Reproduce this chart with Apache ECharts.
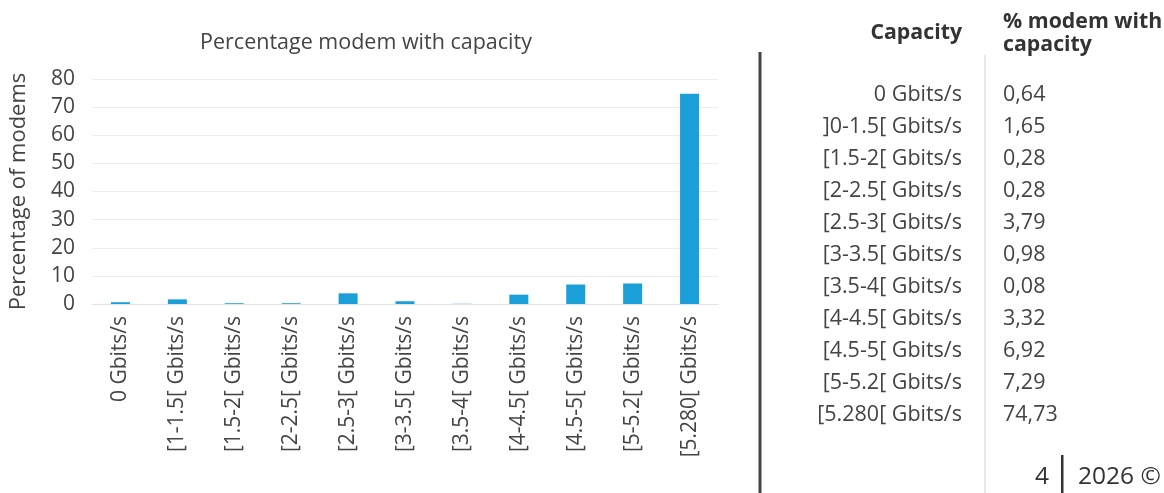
<!DOCTYPE html>
<html>
<head>
<meta charset="utf-8">
<script src="https://cdn.jsdelivr.net/npm/echarts@6/dist/echarts.min.js"></script>
<style>
html,body{margin:0;padding:0;background:#fff;}
#main{width:1164px;height:493px;}
</style>
</head>
<body>
<div id="main"></div>
<script>
var categories = ['0 Gbits/s','[1-1.5[ Gbits/s','[1.5-2[ Gbits/s','[2-2.5[ Gbits/s','[2.5-3[ Gbits/s','[3-3.5[ Gbits/s','[3.5-4[ Gbits/s','[4-4.5[ Gbits/s','[4.5-5[ Gbits/s','[5-5.2[ Gbits/s','[5.280[ Gbits/s'];
var tableLabels = ['0 Gbits/s',']0-1.5[ Gbits/s','[1.5-2[ Gbits/s','[2-2.5[ Gbits/s','[2.5-3[ Gbits/s','[3-3.5[ Gbits/s','[3.5-4[ Gbits/s','[4-4.5[ Gbits/s','[4.5-5[ Gbits/s','[5-5.2[ Gbits/s','[5.280[ Gbits/s'];
var values = [0.64, 1.65, 0.28, 0.28, 3.79, 0.98, 0.08, 3.32, 6.92, 7.29, 74.73];
var yTicks = [0, 10, 20, 30, 40, 50, 60, 70, 80];

var FONT = '"Open Sans", "Noto Sans", sans-serif';
var TXT = '#444';

var graphics = [];
// title
graphics.push({type:'text', style:{x:366, y:43, text:'Percentage modem with capacity', font:'21.5px ' + FONT, fill:TXT, textAlign:'center', textVerticalAlign:'middle'}});
// table header
graphics.push({type:'text', style:{x:962, y:33, text:'Capacity', font:'bold 21.3px ' + FONT, fill:'#333', textAlign:'right', textVerticalAlign:'middle'}});
graphics.push({type:'text', style:{x:1003, y:33, text:'% modem with\ncapacity', font:'bold 21.3px ' + FONT, fill:'#333', textAlign:'left', textVerticalAlign:'middle', lineHeight:23}});
// separators
graphics.push({type:'rect', shape:{x:758.5, y:52, width:3, height:441}, style:{fill:'#444'}});
graphics.push({type:'rect', shape:{x:984, y:55, width:2, height:438}, style:{fill:'#e8e8e8'}});
// rows
for (var i = 0; i < tableLabels.length; i++) {
  var y = 94.5 + i * 32;
  graphics.push({type:'text', style:{x:962, y:y, text:tableLabels[i], font:'21.5px ' + FONT, fill:TXT, textAlign:'right', textVerticalAlign:'middle'}});
  graphics.push({type:'text', style:{x:1003, y:y, text:values[i].toFixed(2).replace('.', ','), font:'21.5px ' + FONT, fill:TXT, textAlign:'left', textVerticalAlign:'middle'}});
}
// footer
graphics.push({type:'text', style:{x:1049, y:477, text:'4', font:'24.5px ' + FONT, fill:'#333', textAlign:'right', textVerticalAlign:'middle'}});
graphics.push({type:'rect', shape:{x:1061, y:455, width:2.5, height:38}, style:{fill:'#333'}});
graphics.push({type:'text', style:{x:1078, y:477, text:'2026 ©', font:'24.5px ' + FONT, fill:'#333', textAlign:'left', textVerticalAlign:'middle'}});

var chart = echarts.init(document.getElementById('main'));
chart.setOption({
  animation: false,
  backgroundColor: '#fff',
  grid: {left: 92, right: 1164-718, top: 79, bottom: 493-304, containLabel: false},
  xAxis: {
    type: 'category',
    data: categories,
    axisLine: {lineStyle: {color: '#e3e3e3', width: 1}},
    axisTick: {show: false},
    axisLabel: {rotate: 90, interval: 0, margin: 12, color: TXT, fontFamily: FONT, fontSize: 21}
  },
  yAxis: {
    type: 'value',
    min: yTicks[0], max: yTicks[yTicks.length-1], interval: 10,
    name: 'Percentage of modems',
    nameLocation: 'middle', nameGap: 62, nameRotate: 90,
    nameTextStyle: {fontFamily: FONT, fontSize: 22, color: TXT},
    axisLine: {show: false},
    axisTick: {show: false},
    axisLabel: {margin: 17, color: TXT, fontFamily: FONT, fontSize: 21},
    splitLine: {lineStyle: {color: '#ececec', width: 1}}
  },
  series: [{
    type: 'bar',
    data: values,
    barWidth: 19,
    itemStyle: {color: '#1a9fd9'}
  }],
  graphic: graphics
});
</script>
</body>
</html>
